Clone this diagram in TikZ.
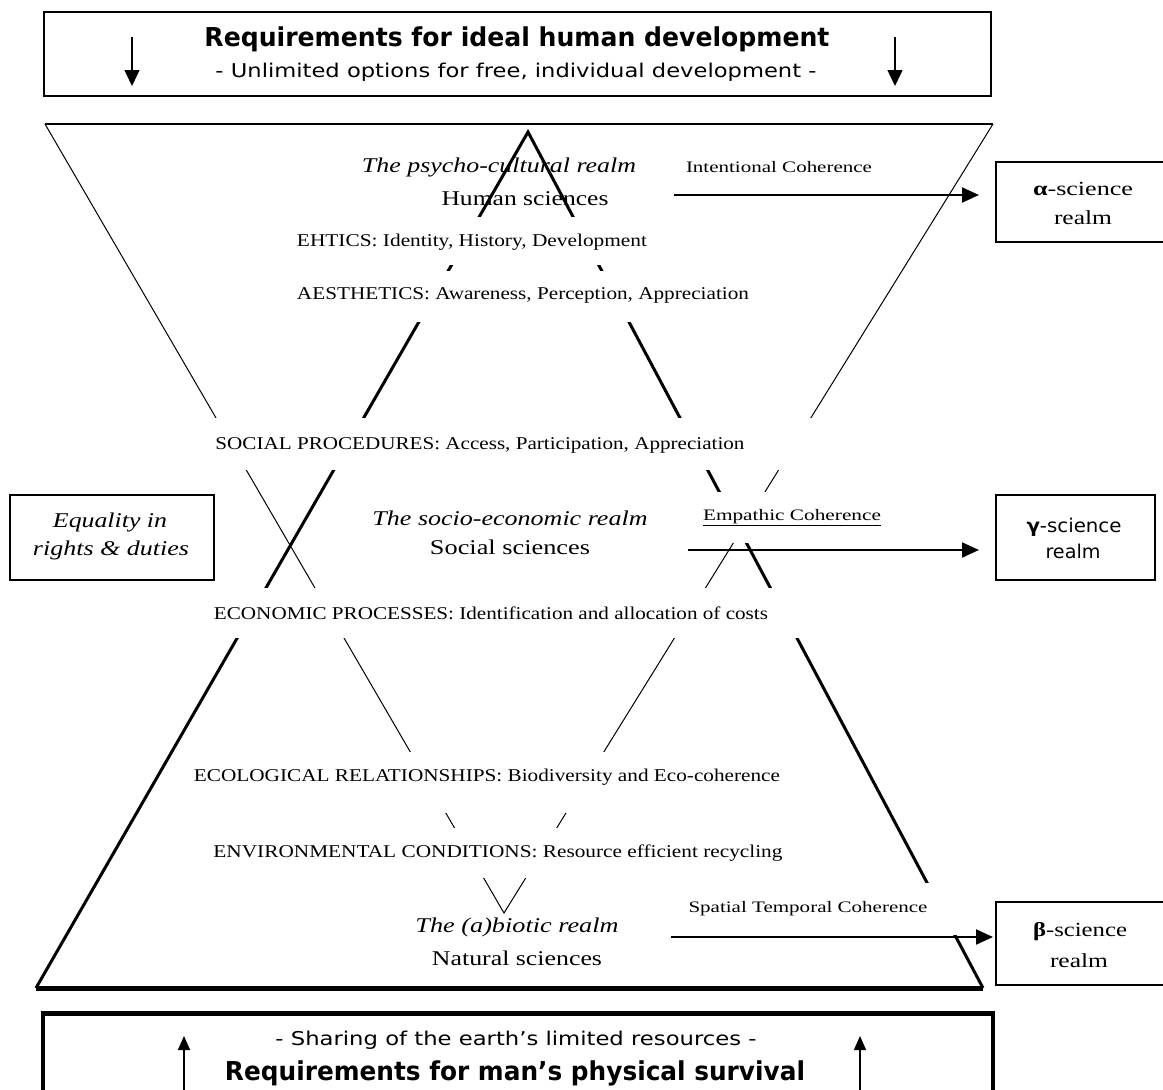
\documentclass[tikz,border=0pt]{standalone}
\usepackage{fontspec}
\setmainfont{Liberation Serif}
\newfontfamily\sansf{DejaVu Sans}
\usetikzlibrary{arrows.meta}
\newcommand\fw[2]{\resizebox{#1pt}{\height}{#2}}
\tikzset{
  thinln/.style={line width=1pt},
  thickln/.style={line width=3pt, line join=miter},
  band/.style={fill=white, draw=none},
  lbl/.style={inner sep=0pt, anchor=center},
  lvl/.style={lbl, font=\fontsize{18}{21}\selectfont},
  realm/.style={lbl, font=\itshape\fontsize{21}{25}\selectfont},
  sci/.style={lbl, font=\fontsize{21}{25}\selectfont},
  coh/.style={lbl, font=\fontsize{16}{19}\selectfont},
  boxtxt/.style={lbl, font=\fontsize{20}{24}\selectfont},
  frame/.style={draw, line width=1.5pt},
  sidearr/.style={line width=2pt, -{Triangle[length=17pt,width=15pt]}},
  downarr/.style={line width=1.5pt, -{Triangle[length=16pt,width=15pt]}},
  uparr/.style={line width=1.3pt, -{Triangle[length=14pt,width=12pt]}}
}
\begin{document}
\begin{tikzpicture}[x=1pt,y=-1pt]
\useasboundingbox (0,0) rectangle (1163,1090);
\clip (0,0) rectangle (1163,1090);

% ---------- triangles ----------
\coordinate (tA) at (45,124);
\coordinate (tB) at (993,124);
\coordinate (tC) at (504,913);
\coordinate (kA) at (528,132);
\coordinate (kL) at (36,988);
\coordinate (kR) at (983,988);
\draw[line width=2pt] (tA) -- (tB);
\draw[thinln] (tA) -- (tC) -- (tB);
\draw[thickln] (kL) -- (kA) -- (kR);
\draw[line width=5pt] (kL) -- (kR);

% ---------- white bands behind the level texts ----------
\fill[band] (290,217) rectangle (660,265);
\fill[band] (290,271) rectangle (765,322);
\fill[band] (200,418) rectangle (830,470);
\fill[band] (695,492) rectangle (890,543);
\fill[band] (205,588) rectangle (810,638);
\fill[band] (185,752) rectangle (795,813);
\fill[band] (205,828) rectangle (795,878);
\fill[band] (680,883) rectangle (965,935);

% ---------- top box ----------
\node[frame, minimum width=947pt, minimum height=84pt, inner sep=0pt] (topbox) at (517.5,54) {};
\node[lbl, font=\sansf\bfseries\fontsize{26}{30}\selectfont] (title) at (517,39) {\fw{625}{Requirements for ideal human development}};
\node[lbl, font=\sansf\fontsize{19}{22}\selectfont] (subtitle) at (516,72) {\fw{601}{- Unlimited options for free, individual development -}};
\coordinate (td1s) at (132,37); \coordinate (td1e) at (132,86);
\coordinate (td2s) at (895,37); \coordinate (td2e) at (895,86);
\draw[downarr] (td1s) -- (td1e);
\draw[downarr] (td2s) -- (td2e);

% ---------- bottom box ----------
\coordinate (bb1) at (43,1100);
\coordinate (bb2) at (43,1013);
\coordinate (bb3) at (993,1013);
\coordinate (bb4) at (993,1100);
\draw[line width=3.5pt] (bb1) -- (bb2) -- (bb3) -- (bb4);
\draw[line width=5pt] (bb2) -- (bb3);
\node[lbl, font=\sansf\fontsize{19}{22}\selectfont] (share) at (516,1040) {\fw{481}{- Sharing of the earth’s limited resources -}};
\node[lbl, font=\sansf\bfseries\fontsize{26}{30}\selectfont] (survival) at (515,1073) {\fw{580}{Requirements for man’s physical survival}};
\coordinate (bu1s) at (184,1095); \coordinate (bu1e) at (184,1036);
\coordinate (bu2s) at (860,1095); \coordinate (bu2e) at (860,1036);
\draw[uparr] (bu1s) -- (bu1e);
\draw[uparr] (bu2s) -- (bu2e);

% ---------- level texts ----------
\node[realm] (psycho) at (499,167) {\fw{274}{The psycho-cultural realm}};
\node[sci] (human) at (525,199) {\fw{167}{Human sciences}};
\node[lvl] (ethics) at (472,242) {\fw{350}{EHTICS: Identity, History, Development}};
\node[lvl] (aesth) at (523,295) {\fw{452}{AESTHETICS: Awareness, Perception, Appreciation}};
\node[lvl] (social) at (480,445) {\fw{529}{SOCIAL PROCEDURES: Access, Participation, Appreciation}};
\node[realm] (socio) at (510,518) {\fw{275}{The socio-economic realm}};
\node[sci] (socsci) at (510,547) {\fw{160}{Social sciences}};
\node[lvl] (econ) at (491,613) {\fw{554}{ECONOMIC PROCESSES: Identification and allocation of costs}};
\node[lvl] (ecol) at (487,777) {\fw{586}{ECOLOGICAL RELATIONSHIPS: Biodiversity and Eco-coherence}};
\node[lvl] (envir) at (498,853) {\fw{569}{ENVIRONMENTAL CONDITIONS: Resource efficient recycling}};
\node[realm] (abiotic) at (517,927) {\fw{203}{The (a)biotic realm}};
\node[sci] (natsci) at (517,958) {\fw{170}{Natural sciences}};

% ---------- coherence labels ----------
\node[coh] (intent) at (779,167) {\fw{186}{Intentional Coherence}};
\node[coh] (empath) at (792,518) {\fw{178}{\underline{Empathic Coherence}}};
\node[coh] (spatial) at (808,909) {\fw{239}{Spatial Temporal Coherence}};

% ---------- side boxes ----------
\draw[frame] (996,162) rectangle (1175,242);
\draw[frame] (996,495) rectangle (1155,580);
\draw[frame] (996,902) rectangle (1175,985);
\draw[frame] (10,495) rectangle (214,580);
\node[boxtxt] (alphat) at (1083,189) {\fw{100}{\textbf{α}-science}};
\node[boxtxt] (alphar) at (1083,218) {\fw{58}{realm}};
\node[boxtxt, font=\sansf\fontsize{19}{22}\selectfont] (gammat) at (1074,527) {\fw{95}{\textbf{γ}-science}};
\node[boxtxt, font=\sansf\fontsize{19}{22}\selectfont] (gammar) at (1073,551) {\fw{55}{realm}};
\node[boxtxt] (betat) at (1080,932) {\fw{94}{\textbf{β}-science}};
\node[boxtxt] (betar) at (1079,961) {\fw{58}{realm}};
\node[lbl, font=\itshape\fontsize{21}{25}\selectfont] (eq1) at (110,522) {\fw{114}{Equality in}};
\node[lbl, font=\itshape\fontsize{21}{25}\selectfont] (eq2) at (111,550) {\fw{156}{rights \& duties}};

% ---------- side arrows ----------
\coordinate (a1s) at (674,195); \coordinate (a1e) at (979,195);
\coordinate (g1s) at (688,550); \coordinate (g1e) at (979,550);
\coordinate (b1s) at (671,937); \coordinate (b1e) at (993,937);
\draw[sidearr] (a1s) -- (a1e);
\draw[sidearr] (g1s) -- (g1e);
\draw[sidearr] (b1s) -- (b1e);
\end{tikzpicture}
\end{document}
